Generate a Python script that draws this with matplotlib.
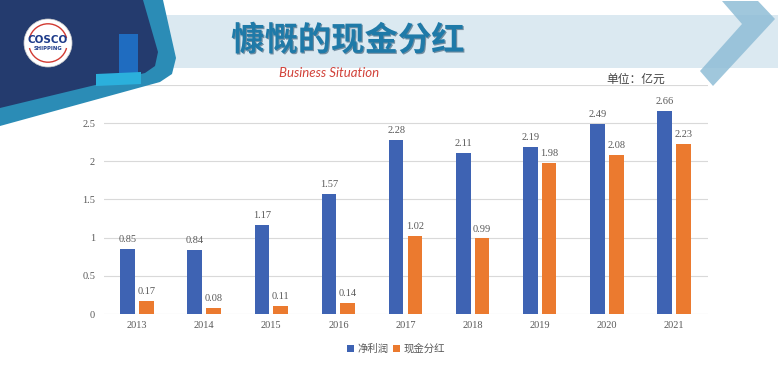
import matplotlib
matplotlib.use("Agg")
import matplotlib.pyplot as plt
import matplotlib.patches as mpatches
import matplotlib.patheffects as pe
import numpy as np

years = ['2013', '2014', '2015', '2016', '2017', '2018', '2019', '2020', '2021']
net_profit = [0.85, 0.84, 1.17, 1.57, 2.28, 2.11, 2.19, 2.49, 2.66]
cash_dividend = [0.17, 0.08, 0.11, 0.14, 1.02, 0.99, 1.98, 2.08, 2.23]
series_names = ['净利润', '现金分红']
y_ticks = [0, 0.5, 1, 1.5, 2, 2.5, 3]
y_tick_labels = ['0', '0.5', '1', '1.5', '2', '2.5', '']

W, H = 778, 365
BLUE = '#3e63b3'
ORANGE = '#eb7a2f'
GREY_TXT = '#595959'

plt.rcParams['font.family'] = ['Noto Sans CJK SC', 'DejaVu Sans']

fig = plt.figure(figsize=(W / 100, H / 100), dpi=100)
fig.patch.set_facecolor('white')


def px(x, y):
    # pixel coords (top-left origin) -> figure fraction
    return (x / W, 1 - y / H)


def poly(points, **kw):
    p = mpatches.Polygon([px(x, y) for x, y in points], closed=True,
                         transform=fig.transFigure, **kw)
    fig.add_artist(p)
    return p


# ---------------- chart ----------------
ax = fig.add_axes([103.5 / W, 51 / H, 604 / W, (314 - 84.8) / H])
ax.set_facecolor('none')
x = np.arange(len(years))
bw = 0.22
off = 0.14
b1 = ax.bar(x - off, net_profit, bw, color=BLUE, label=series_names[0], zorder=3)
b2 = ax.bar(x + off, cash_dividend, bw, color=ORANGE, label=series_names[1], zorder=3)

for bars, vals in ((b1, net_profit), (b2, cash_dividend)):
    for r, v in zip(bars, vals):
        ax.annotate(f'{v:.2f}', (r.get_x() + r.get_width() / 2, v),
                    xytext=(0, 3.5), textcoords='offset points',
                    ha='center', va='bottom', fontsize=7.5,
                    color=GREY_TXT, family='Liberation Serif')

ax.set_xlim(-0.5, len(years) - 0.5)
ax.set_ylim(0, 3)
ax.set_yticks(y_ticks)
ax.set_yticklabels(y_tick_labels)
ax.set_xticks(x)
ax.set_xticklabels(years)
for lab in ax.get_xticklabels() + ax.get_yticklabels():
    lab.set_family('Liberation Serif')
    lab.set_fontsize(7.5)
    lab.set_color(GREY_TXT)
ax.tick_params(length=0)
ax.tick_params(axis='x', pad=5)
ax.tick_params(axis='y', pad=6)
ax.grid(axis='y', color='#d9d9d9', lw=0.8, zorder=0)
for s in ax.spines.values():
    s.set_visible(False)

leg = ax.legend(loc='center', bbox_to_anchor=(396 / W, 1 - 349 / H),
                bbox_transform=fig.transFigure, ncol=2, frameon=False,
                fontsize=7.5, handlelength=0.7, handleheight=0.7,
                handletextpad=0.3, columnspacing=0.4)
for t in leg.get_texts():
    t.set_color(GREY_TXT)

# ---------------- header decoration ----------------
# light banner stripe
poly([(160, 15), (778, 15), (778, 68), (160, 68)], facecolor='#dbe9f1',
     edgecolor='none', zorder=1)
# chevron on the right
poly([(722, 1), (758, 1), (775, 19), (713, 86), (700, 71), (742, 24)],
     facecolor='#8fbdd6', edgecolor='none', alpha=0.85, zorder=2)

# left corner block: teal border then navy fill
poly([(0, 0), (163, 0), (176, 58), (172, 74), (160, 82), (0, 126)],
     facecolor='#2b8cb6', edgecolor='none', zorder=5)
poly([(0, 0), (143, 0), (158, 52), (155, 66), (145, 73), (0, 108)],
     facecolor='#243b6e', edgecolor='none', zorder=6)
poly([(119, 34), (138, 34), (138, 76), (119, 76)], facecolor='#1f6cc0',
     edgecolor='none', zorder=7)
poly([(96, 74), (141, 72), (141, 84), (96, 86)], facecolor='#2bb0dc',
     edgecolor='none', zorder=7)

# logo
cx, cy, rr = 48, 43, 24
fig.add_artist(mpatches.Ellipse(px(cx, cy), 2 * rr / W, 2 * rr / H,
                                transform=fig.transFigure, facecolor='white',
                                edgecolor='#cccccc', lw=0.5, zorder=8))
for th1, th2 in ((30, 150), (210, 330)):
    fig.add_artist(mpatches.Arc(px(cx, cy), 1.6 * rr / W, 1.6 * rr / H,
                                theta1=th1, theta2=th2, transform=fig.transFigure,
                                color='#d23a32', lw=1.0, zorder=9))
fig.text(*px(cx, cy - 3), 'COSCO', ha='center', va='center', fontsize=7.5,
         fontweight='bold', color='#1d3b8a', family='DejaVu Sans', zorder=10)
fig.text(*px(cx, cy + 6), 'SHIPPING', ha='center', va='center', fontsize=3.8,
         fontweight='bold', color='#1d3b8a', family='DejaVu Sans', zorder=10)

# titles
fig.text(*px(348, 41), '慷慨的现金分红', ha='center', va='center', fontsize=24,
         fontweight='bold', color='#1f7aa8', zorder=10,
         path_effects=[pe.SimplePatchShadow(offset=(0.8, -0.8),
                                            shadow_rgbFace='#0c3552', alpha=0.5),
                       pe.Normal()])
fig.text(*px(329, 73), 'Business Situation', ha='center', va='center',
         fontsize=9.5, style='italic', color='#d2433b', family='Lato', zorder=10)
fig.text(*px(636, 79), '单位：亿元', ha='center', va='center', fontsize=8.5,
         color='#444444', zorder=10)

fig.savefig('out.png', dpi=100)
